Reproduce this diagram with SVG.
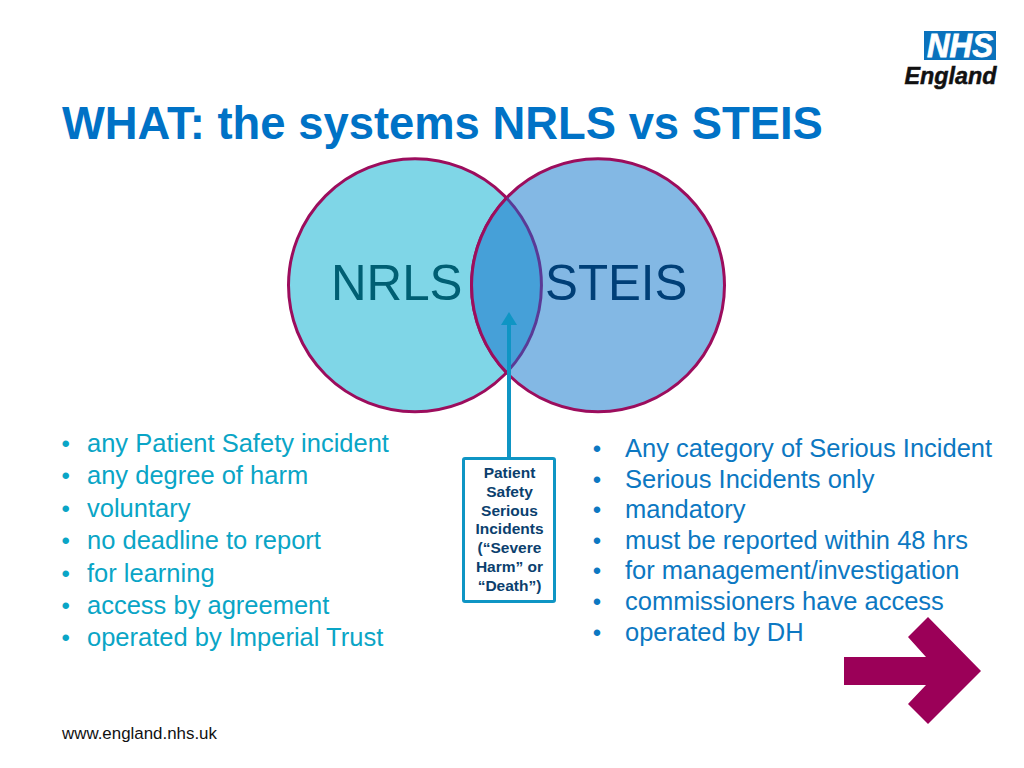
<svg xmlns="http://www.w3.org/2000/svg" width="1024" height="768" viewBox="0 0 1024 768">
<style>
text{font-family:"Liberation Sans",Arial,sans-serif}
.l{font-size:25.500px;fill:#0aa5c6}
.r{font-size:25.500px;fill:#0c78c2}
.bl{font-size:24px;fill:#0aa5c6}
.br{font-size:24px;fill:#0c78c2}
.b{font-size:15.500px;font-weight:bold;fill:#0b3f6e;text-anchor:middle}
.c{font-size:49.300px}
</style>
<defs>
<clipPath id="lens"><circle cx="415" cy="285.300" r="126.500"/></clipPath>
</defs>
<rect width="1024" height="768" fill="#fff"/>
<g id="logo">
<rect x="924" y="31" width="72" height="29" fill="#0a72bc"/>
<text x="960" y="57" font-size="33" font-weight="bold" font-style="italic" fill="#fff" stroke="#fff" stroke-width="0.800" text-anchor="middle" textLength="66" lengthAdjust="spacingAndGlyphs">NHS</text>
<text x="950.500" y="84" font-size="24" font-weight="bold" font-style="italic" fill="#111" stroke="#111" stroke-width="0.500" text-anchor="middle" textLength="92" lengthAdjust="spacingAndGlyphs">England</text>
</g>
<text id="title" x="62" y="139" font-size="45.400" font-weight="bold" fill="#0072c6">WHAT: the systems NRLS vs STEIS</text>
<g id="nrls">
<circle cx="415" cy="285.300" r="126.500" fill="#7fd6e7" stroke="#9c0d5d" stroke-width="3"/>
<text class="c" x="331" y="300" fill="#005f73">NRLS</text>
</g>
<g id="steis">
<circle cx="598" cy="285.300" r="126.500" fill="#83b8e4" stroke="#9c0d5d" stroke-width="3"/>
<text class="c" x="545" y="300" fill="#003f77">STEIS</text>
</g>
<g id="overlap">
<circle cx="598" cy="285.300" r="126.500" fill="#46a0d8" clip-path="url(#lens)"/>
<path d="M506.500 198A126.500 126.500 0 0 1 506.500 372.600" fill="none" stroke="#5a3a96" stroke-width="3"/>
<path d="M506.500 198A126.500 126.500 0 0 0 506.500 372.600" fill="none" stroke="#9c0d5d" stroke-width="3"/>
</g>
<g id="left-list">
<text class="bl" x="61.500" y="452">•</text><text class="l" x="87" y="452">any Patient Safety incident</text>
<text class="bl" x="61.500" y="484">•</text><text class="l" x="87" y="484">any degree of harm</text>
<text class="bl" x="61.500" y="517">•</text><text class="l" x="87" y="517">voluntary</text>
<text class="bl" x="61.500" y="549">•</text><text class="l" x="87" y="549">no deadline to report</text>
<text class="bl" x="61.500" y="582">•</text><text class="l" x="87" y="582">for learning</text>
<text class="bl" x="61.500" y="614">•</text><text class="l" x="87" y="614">access by agreement</text>
<text class="bl" x="61.500" y="646">•</text><text class="l" x="87" y="646">operated by Imperial Trust</text>
</g>
<g id="right-list">
<text class="br" x="592.800" y="457">•</text><text class="r" x="625" y="457">Any category of Serious Incident</text>
<text class="br" x="592.800" y="488">•</text><text class="r" x="625" y="488">Serious Incidents only</text>
<text class="br" x="592.800" y="518">•</text><text class="r" x="625" y="518">mandatory</text>
<text class="br" x="592.800" y="549">•</text><text class="r" x="625" y="549">must be reported within 48 hrs</text>
<text class="br" x="592.800" y="579">•</text><text class="r" x="625" y="579">for management/investigation</text>
<text class="br" x="592.800" y="610">•</text><text class="r" x="625" y="610">commissioners have access</text>
<text class="br" x="592.800" y="641">•</text><text class="r" x="625" y="641">operated by DH</text>
</g>
<g id="connectors">
<path d="M509 458V322" fill="none" stroke="#0f95c4" stroke-width="4"/>
<path d="M509 312L517 325H501Z" fill="#0f95c4"/>
</g>
<g id="callout">
<rect x="463.500" y="458.500" width="91" height="143" rx="1.500" fill="#fff" stroke="#0f95c4" stroke-width="3"/>
<text class="b" x="509.500" y="478">Patient</text>
<text class="b" x="509.500" y="497">Safety</text>
<text class="b" x="509.500" y="516">Serious</text>
<text class="b" x="509.500" y="534">Incidents</text>
<text class="b" x="509.500" y="553">(“Severe</text>
<text class="b" x="509.500" y="572">Harm” or</text>
<text class="b" x="509.500" y="591">“Death”)</text>
</g>
<polygon id="arrow" points="844,657 926,657 908,637 928,617 981,671 928,724 908,704 926,685 844,685" fill="#9b0058"/>
<text id="url" x="62" y="739" font-size="16.900" fill="#111">www.england.nhs.uk</text>
</svg>
